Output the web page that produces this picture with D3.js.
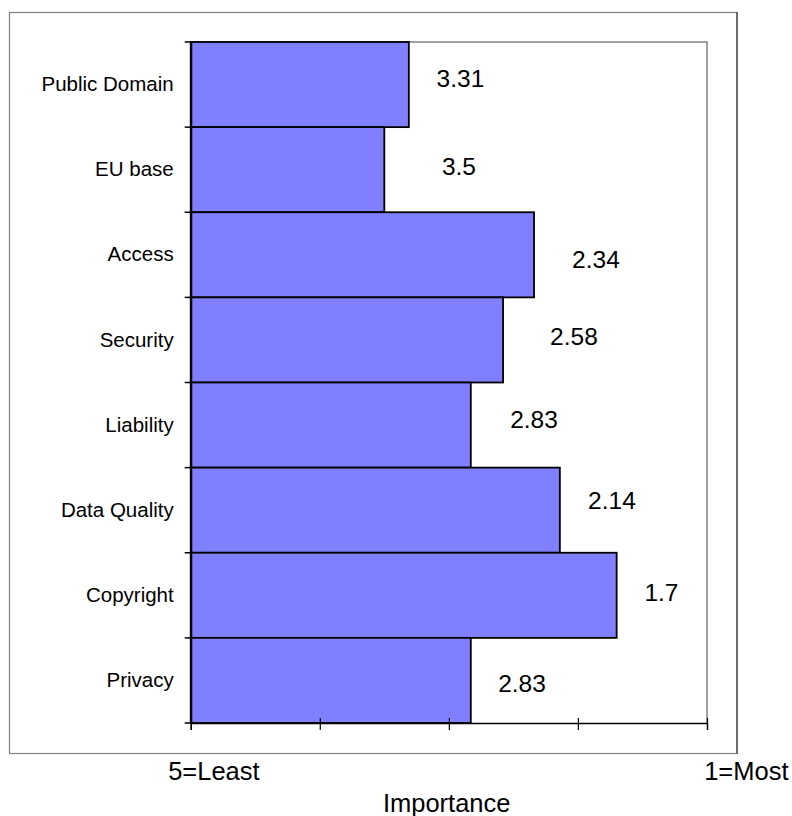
<!DOCTYPE html>
<html>
<head>
<meta charset="utf-8">
<script src="https://cdn.jsdelivr.net/npm/d3@7"></script>
<style>
  html, body { margin: 0; padding: 0; background: #fff; }
  svg { display: block; font-family: "Liberation Sans", Arial, sans-serif; }
</style>
</head>
<body>
<svg id="chart" width="792" height="816"></svg>
<script>
// Ranked importance of each issue (5 = least important, 1 = most important)
const categories = ["Public Domain", "EU base", "Access", "Security", "Liability", "Data Quality", "Copyright", "Privacy"];
const values = [3.31, 3.5, 2.34, 2.58, 2.83, 2.14, 1.7, 2.83];

// Value axis runs from 5 (left) to 1 (right)
const axisDomain = [5, 1];
const axisTicks = [5, 4, 3, 2, 1];
const axisEndLabels = ["5=Least", "1=Most"];
const axisTitle = "Importance";

// Hand-placed offsets of the value labels: [dx from bar end to label centre, dy of baseline from band centre]
const labelOffsets = [[51.6, 2.4], [74.6, 5.3], [61.9, 12.9], [70.9, 5], [63.2, 2.6], [52.1, -0.9], [44.8, 5.3], [51.2, 11.8]];

const svg = d3.select("#chart");
const plot = { left: 190.7, right: 707, top: 42, bottom: 723 };

const x = d3.scaleLinear().domain(axisDomain).range([plot.left, plot.right]);
const y = d3.scaleBand().domain(categories).range([plot.top, plot.bottom]).padding(0);

// Outer chart frame
svg.append("rect")
  .attr("x", 9.5).attr("y", 12.5)
  .attr("width", 727.5).attr("height", 741)
  .attr("fill", "none").attr("stroke", "#808080").attr("stroke-width", 1.2);
svg.append("line")
  .attr("x1", 737).attr("x2", 737).attr("y1", 12).attr("y2", 754)
  .attr("stroke", "#404040").attr("stroke-width", 1.2);

// Plot area border (top and right)
svg.append("path")
  .attr("d", `M${plot.left},${plot.top}H${plot.right}V${plot.bottom}`)
  .attr("fill", "none").attr("stroke", "#808080").attr("stroke-width", 1.5);

const rows = categories.map((c, i) => ({ cat: c, val: values[i], off: labelOffsets[i] }));

// Bars grow from the "5" end towards the value
svg.append("g").selectAll("rect")
  .data(rows).join("rect")
  .attr("x", x(5))
  .attr("y", d => y(d.cat))
  .attr("width", d => x(d.val) - x(5))
  .attr("height", y.bandwidth())
  .attr("fill", "#8080ff")
  .attr("stroke", "#000")
  .attr("stroke-width", 1.8);

// Value labels
svg.append("g").selectAll("text")
  .data(rows).join("text")
  .attr("x", d => x(d.val) + d.off[0])
  .attr("y", d => y(d.cat) + y.bandwidth() / 2 + d.off[1])
  .attr("text-anchor", "middle")
  .attr("font-size", "24.5px")
  .attr("fill", "#000")
  .text(d => d.val);

// Category axis (left)
const yAxis = d3.axisLeft(y).tickSize(0).tickPadding(17);
const yg = svg.append("g").attr("transform", `translate(${plot.left},0)`).call(yAxis);
yg.select(".domain").attr("stroke", "#000").attr("stroke-width", 2.2);
yg.selectAll(".tick text")
  .attr("font-size", "20.5px")
  .attr("font-family", "'Liberation Sans', Arial, sans-serif")
  .attr("fill", "#000");
// Ticks at the band boundaries
const bounds = categories.map(c => y(c)).concat([plot.bottom]);
yg.selectAll("line.bound")
  .data(bounds).join("line")
  .attr("class", "bound")
  .attr("x1", -6).attr("x2", 0)
  .attr("y1", d => d).attr("y2", d => d)
  .attr("stroke", "#000").attr("stroke-width", 1.5);

// Value axis (bottom)
const xAxis = d3.axisBottom(x).tickValues(axisTicks).tickSize(7).tickFormat("");
const xg = svg.append("g").attr("transform", `translate(0,${plot.bottom})`).call(xAxis);
xg.select(".domain").attr("stroke", "#000").attr("stroke-width", 1.3);
xg.selectAll(".tick line").attr("stroke", "#000").attr("stroke-width", 1.2).attr("y1", -5);

// End labels of the value axis
svg.append("text")
  .attr("x", x(axisDomain[0]) - 22.5).attr("y", 780)
  .attr("font-size", "25.5px").attr("fill", "#000")
  .text(axisEndLabels[0]);
svg.append("text")
  .attr("x", x(axisDomain[1]) + 81.5).attr("y", 779.5)
  .attr("text-anchor", "end")
  .attr("font-size", "25.5px").attr("fill", "#000")
  .text(axisEndLabels[1]);

// Axis title
svg.append("text")
  .attr("x", 446.7).attr("y", 812)
  .attr("text-anchor", "middle")
  .attr("font-size", "25.5px").attr("fill", "#000")
  .text(axisTitle);
</script>
</body>
</html>
